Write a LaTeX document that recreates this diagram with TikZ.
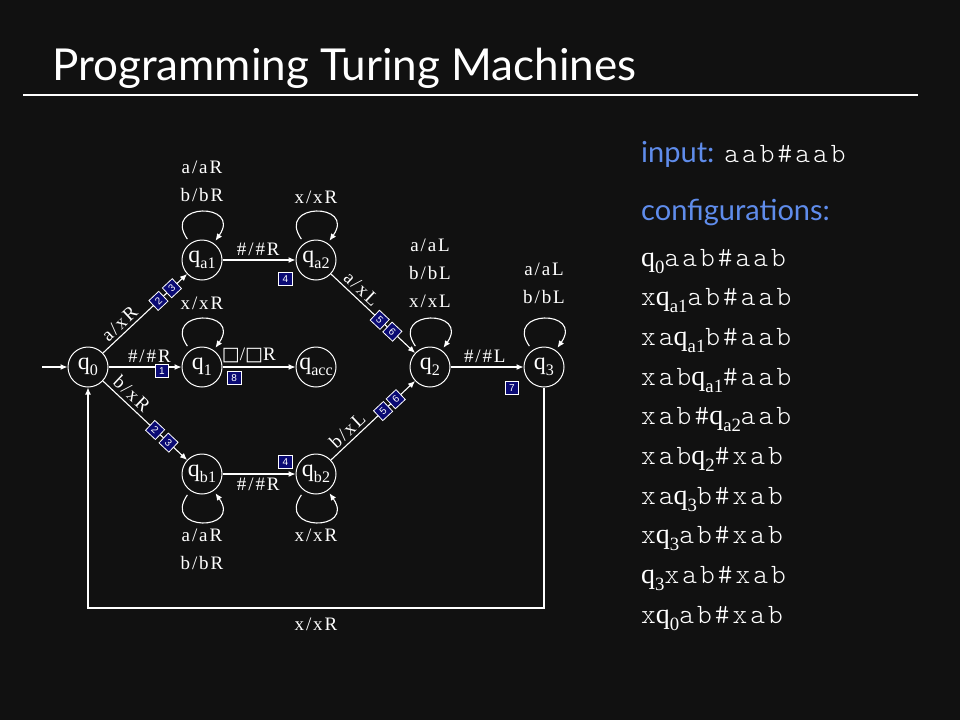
\documentclass[tikz,border=0pt]{standalone}
\usepackage{fontspec}
\setmainfont{Liberation Serif}
\newfontfamily\titlefont{Lato}
\newfontfamily\symfont{DejaVu Sans}
\newfontfamily\tagfont{Liberation Sans}
\newfontfamily\lblfont[LetterSpace=10]{Liberation Serif}
\newfontfamily\tapefont[LetterSpace=11]{lmmonolt10-regular.otf}
\usetikzlibrary{arrows.meta}
\usetikzlibrary{positioning}
\usetikzlibrary{automata}

\definecolor{bg}{RGB}{17,17,17}
\definecolor{hilite}{RGB}{95,140,235}
\definecolor{tagblue}{RGB}{10,10,115}

\newcommand{\qs}[1]{{\rmfamily q\raisebox{-0.25em}{\scalebox{0.67}{#1}}}}
\newcommand{\st}[1]{\makebox[0pt]{\qs{#1}}}
\newcommand{\blank}{{\symfont\char"25A1}}

\tikzset{
  every state/.style={draw=white!88, line width=1pt, minimum size=40pt,
    inner sep=0pt, text=white, font=\fontsize{24}{24}\selectfont},
  tm/.style={draw=white!88, line width=1.1pt},
  selfloop/.style={tm, shorten <=5pt, shorten >=3pt},
  lbl/.style={text=white, font=\lblfont\fontsize{19}{28}\selectfont},
  tag/.style={draw=white, fill=tagblue, text=white, line width=0.8pt,
    minimum size=13.5pt, inner sep=0pt, font=\tagfont\fontsize{10}{10}\selectfont},
  cfgline/.style={anchor=base west, inner sep=0pt, text=white,
    font=\tapefont\fontsize{28}{28}\selectfont},
  heading/.style={anchor=base west, inner sep=0pt, text=hilite,
    font=\titlefont\fontsize{29}{29}\selectfont}
}

\begin{document}
\begin{tikzpicture}[x=1pt, y=1pt, node distance=107pt and 114pt, on grid,
    >={Latex[length=7pt,width=6pt]}]
  \fill[bg] (0,0) rectangle (960,-720);
  \useasboundingbox (0,0) rectangle (960,-720);

  % title
  \node[anchor=base west, inner sep=0pt, text=white,
    font=\titlefont\fontsize{44}{44}\selectfont] (title) at (52,-80)
    {Programming Turing Machines};
  \coordinate (rulel) at (23,-95);
  \coordinate (ruler) at (918,-95);
  \draw[white, line width=1.3pt] (rulel) -- (ruler);

  % states
  \node[state] (q0) at (88,-367) {\st{0}};
  \node[state, above right=of q0] (qa1) {\st{a1}};
  \node[state, right=of q0] (q1) {\st{1}};
  \node[state, below right=of q0] (qb1) {\st{b1}};
  \node[state, right=of qa1] (qa2) {\st{a2}};
  \node[state, right=of q1] (qacc) {\st{acc}};
  \node[state, right=of qb1] (qb2) {\st{b2}};
  \node[state, right=of qacc] (q2) {\st{2}};
  \node[state, right=of q2] (q3) {\st{3}};
  \coordinate[left=46pt of q0] (init);
  \coordinate[below=241pt of qacc] (back);

  % transitions
  \draw[tm, ->] (init) -- (q0);
  \draw[tm, ->] (q0) -- node[lbl, above, sloped, pos=0.28] {a/xR}
    node[tag, sloped, pos=0.66] {2} node[tag, sloped, pos=0.82] {3} (qa1);
  \draw[tm, ->] (q0) -- node[lbl, above, pos=0.56] {\#/\#R}
    node[tag, pos=0.73, yshift=-4pt] {1} (q1);
  \draw[tm, ->] (q0) -- node[lbl, above, sloped, pos=0.26] {b/xR}
    node[tag, sloped, pos=0.62] {2} node[tag, sloped, pos=0.78] {3} (qb1);
  \draw[tm, ->] (qa1) -- node[lbl, above, pos=0.49] {\#/\#R}
    node[tag, pos=0.86, yshift=-19pt] {4} (qa2);
  \draw[tm, ->] (q1) -- node[lbl, above, pos=0.36] {\blank/\blank R}
    node[tag, pos=0.16, yshift=-11pt] {8} (qacc);
  \draw[tm, ->] (qb1) -- node[lbl, below, pos=0.49] {\#/\#R}
    node[tag, pos=0.86, yshift=12pt] {4} (qb2);
  \draw[tm, ->] (qa2) -- node[lbl, above, sloped, pos=0.28] {a/xL}
    node[tag, sloped, pos=0.58] {5} node[tag, sloped, pos=0.73] {6} (q2);
  \draw[tm, ->] (qb2) -- node[lbl, above, sloped, pos=0.28] {b/xL}
    node[tag, sloped, pos=0.62] {5} node[tag, sloped, pos=0.77] {6} (q2);
  \draw[tm, ->] (q2) -- node[lbl, above, pos=0.47] {\#/\#L}
    node[tag, pos=0.84, yshift=-21pt] {7} (q3);
  \draw[tm, ->] (q3) |- (back) node[lbl, below=6pt] {x/xR} -| (q0);

  % loops
  \draw[selfloop, ->] (qa1.125) .. controls +(125:50pt) and +(55:50pt) .. (qa1.55)
    node[lbl, pos=0.5, above=7pt, align=center] {a/aR\\b/bR};
  \draw[selfloop, ->] (qa2.125) .. controls +(125:50pt) and +(55:50pt) .. (qa2.55)
    node[lbl, pos=0.5, above=5pt] {x/xR};
  \draw[selfloop, ->] (q1.125) .. controls +(125:50pt) and +(55:50pt) .. (q1.55)
    node[lbl, pos=0.5, above=6pt] {x/xR};
  \draw[selfloop, ->] (q2.125) .. controls +(125:50pt) and +(55:50pt) .. (q2.55)
    node[lbl, pos=0.5, above=8pt, align=center] {a/aL\\b/bL\\x/xL};
  \draw[selfloop, ->] (q3.125) .. controls +(125:50pt) and +(55:50pt) .. (q3.55)
    node[lbl, pos=0.5, above=12pt, align=center] {a/aL\\b/bL};
  \draw[selfloop, ->] (qb1.235) .. controls +(235:50pt) and +(305:50pt) .. (qb1.305)
    node[lbl, pos=0.5, below=4pt, align=center] {a/aR\\b/bR};
  \draw[selfloop, ->] (qb2.235) .. controls +(235:50pt) and +(305:50pt) .. (qb2.305)
    node[lbl, pos=0.5, below=4pt] {x/xR};

  % configurations
  \node[heading] (input) at (641,-162)
    {input: \textcolor{white}{\tapefont\fontsize{28}{28}\selectfont aab\#aab}};
  \node[heading] (cfghead) at (641,-220) {configurations:};
  \foreach \cfg [count=\i] in {{\qs{0}aab\#aab}, {x\qs{a1}ab\#aab},
      {xa\qs{a1}b\#aab}, {xab\qs{a1}\#aab}, {xab\#\qs{a2}aab},
      {xab\qs{2}\#xab}, {xa\qs{3}b\#xab}, {x\qs{3}ab\#xab},
      {\qs{3}xab\#xab}, {x\qs{0}ab\#xab}}
    \node[cfgline] (cfg\i) at (641,{-266-39.7*(\i-1)}) {\cfg};
\end{tikzpicture}
\end{document}
